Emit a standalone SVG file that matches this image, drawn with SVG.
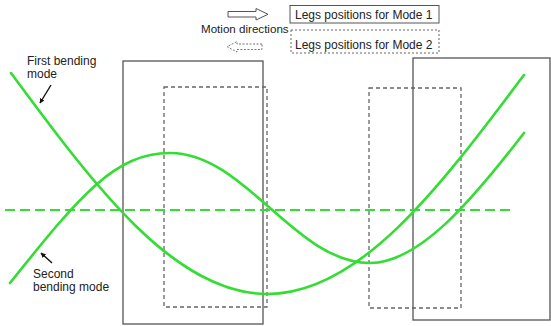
<svg xmlns="http://www.w3.org/2000/svg" width="551" height="326" viewBox="0 0 551 326">
<style>
text{font-family:"Liberation Sans",Arial,sans-serif;font-size:12px;fill:#222}
.leg{fill:none;stroke:#555;stroke-width:1.3}
.legd{fill:none;stroke:#666;stroke-width:1.3;stroke-dasharray:4 3}
.mode{fill:none;stroke:#33dd33;stroke-width:2.6;stroke-linecap:round}
.axis{fill:none;stroke:#33dd33;stroke-width:2;stroke-dasharray:10 5}
.ptr{fill:none;stroke:#111;stroke-width:1.4}
</style>
<defs>
<marker id="ah" viewBox="0 0 10 10" refX="9" refY="5" markerWidth="5" markerHeight="5" orient="auto" markerUnits="userSpaceOnUse">
<path d="M0,0 L10,5 L0,10 z" fill="#111"/>
</marker>
</defs>
<rect width="551" height="326" fill="#fff"/>

<g id="legend">
<path d="M228,11.5 H256 V8.5 L268,14.3 L256,20 V17 H228 Z" fill="#fff" stroke="#555" stroke-width="1"/>
<path d="M262,44 H237 V41.5 L227,46.7 L237,52 V49.5 H262 Z" fill="#fff" stroke="#777" stroke-width="1" stroke-dasharray="2 1.5"/>
<text x="201" y="33" style="font-size:11.6px">Motion directions</text>
<rect x="290" y="5.5" width="149" height="17.5" fill="#fff" stroke="#555" stroke-width="1"/>
<text x="295" y="19">Legs positions for Mode 1</text>
<rect x="291" y="30" width="148" height="23" fill="#fff" stroke="#666" stroke-width="1" stroke-dasharray="2 2"/>
<text x="295" y="49">Legs positions for Mode 2</text>
</g>

<g id="leg-mode1-left"><rect class="leg" x="123" y="61" width="140" height="263"/></g>
<g id="leg-mode2-left"><rect class="legd" x="164" y="87" width="103" height="220"/></g>
<g id="leg-mode2-right"><rect class="legd" x="369" y="88" width="92" height="220"/></g>
<g id="leg-mode1-right"><rect class="leg" x="413" y="58" width="137" height="262"/></g>

<g id="connectors">
<line class="axis" x1="5" y1="210" x2="513" y2="210"/>
<path id="first-mode" class="mode" d="M11,73 C94.6,186.2 174.7,294 267.5,294 C360.3,294 440.4,186.2 524,75"/>
<path id="second-mode" class="mode" d="M10,283 C80,195.5 115,153 170,153 C245,153 295,263 370,263 C420,263 474,198 524,133"/>
<line class="ptr" x1="51" y1="85" x2="40" y2="103" marker-end="url(#ah)"/>
<line class="ptr" x1="52" y1="263" x2="41" y2="253" marker-end="url(#ah)"/>
</g>

<g id="labels">
<text x="27" y="65">First bending</text>
<text x="27" y="78">mode</text>
<text x="33" y="278">Second</text>
<text x="33" y="291">bending mode</text>
</g>
</svg>
